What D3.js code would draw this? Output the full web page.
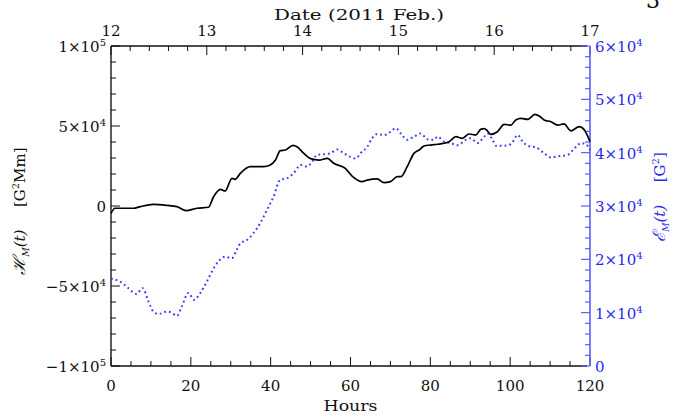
<!DOCTYPE html>
<html>
<head>
<meta charset="utf-8">
<script src="https://cdn.jsdelivr.net/npm/d3@7"></script>
<style>
  html, body { margin: 0; padding: 0; background: #fff; }
  svg { display: block; }
  text { font-family: "DejaVu Serif", "Liberation Serif", serif; }
</style>
</head>
<body>
<svg id="chart" width="684" height="420"></svg>
<script>
// Magnetic helicity H_M(t) [G^2 Mm], left axis (solid black)
const helicityHours = [0, 1, 5.6, 7.3, 10.6, 14, 16.5, 18.8, 21.5, 24.4, 25.7, 27.4, 28.6, 30.3, 31.1, 32.4, 34.9, 38.2, 39.9, 41.2, 42.4, 43.7, 45.6, 46.6, 48.3, 50, 52.1, 54.2, 55.8, 58.7, 60.4, 62.9, 64.2, 66.7, 68.4, 70, 71.7, 72.6, 74.2, 75.9, 77.2, 78.4, 80.1, 81.8, 83.4, 84.7, 86.4, 88, 89.7, 91.4, 92.6, 93.5, 94.3, 95.1, 96.8, 98.5, 100.2, 101.4, 102.7, 104.4, 106.2, 107.3, 108.5, 110.2, 111.9, 113.5, 115.2, 117.3, 118.6, 120];
const helicityValues = [-4600, -1400, -1400, -400, 1000, 400, -400, -2900, -1400, -800, 5800, 10400, 9400, 17300, 16700, 20400, 24600, 24600, 25600, 28700, 34600, 35000, 37900, 37000, 32900, 29600, 28700, 29800, 26700, 23500, 18700, 15200, 16200, 16900, 14600, 15200, 18300, 18300, 24600, 32900, 35000, 37500, 38100, 38600, 39200, 40200, 43300, 42300, 45000, 44400, 47900, 48400, 47000, 44800, 46400, 51000, 50600, 53800, 54800, 54200, 57300, 56200, 53800, 52700, 50600, 51300, 47000, 49600, 47500, 40200];

// Magnetic energy E_M(t) [G^2], right axis (dotted blue)
const energyHours = [0, 2.3, 3.9, 6.4, 7.9, 9.4, 10.6, 11.9, 14, 15.2, 16.5, 17.7, 19.4, 20.8, 22.3, 24, 25.7, 26.9, 28.6, 30.3, 31.5, 32.4, 34, 35.7, 37.4, 39.1, 40.7, 42.4, 44.1, 45.8, 47.5, 49.1, 50.4, 51.6, 53.3, 55, 56.7, 58.3, 60, 61.3, 62.5, 64.2, 65.4, 66.7, 68.4, 70, 71.3, 72.6, 74.2, 75.9, 77.6, 79.3, 80.9, 81.8, 83.4, 85.1, 86.8, 88.9, 90.1, 91.8, 93.5, 94.3, 95.6, 96.4, 98.5, 100.2, 101.9, 103.1, 104.4, 106.5, 108.5, 110.2, 111.9, 114.4, 116.1, 117.8, 119.1, 120];
const energyValues = [16400, 15800, 14900, 13500, 14600, 12100, 10200, 9750, 10200, 10000, 9400, 11100, 13700, 12400, 13600, 15800, 18300, 19600, 20500, 20200, 21800, 23000, 23600, 24900, 26800, 29300, 31700, 34900, 35200, 36200, 37700, 37400, 38300, 39600, 39700, 39900, 40600, 39900, 39200, 38900, 39900, 41100, 42700, 43500, 43300, 43900, 44600, 43600, 42400, 43000, 43600, 42500, 42400, 43000, 42100, 41800, 41400, 42400, 42700, 41800, 43000, 43600, 42400, 41300, 41300, 41600, 43300, 42100, 41300, 41000, 39900, 39100, 39300, 39600, 40800, 41800, 41500, 40500];

// Axis ticks and labels
const hourTicks = [0, 20, 40, 60, 80, 100, 120];
const dayTicks = [0, 24, 48, 72, 96, 120];
const dayLabels = ["12", "13", "14", "15", "16", "17"];
const leftTicks = [-100000, -50000, 0, 50000, 100000];
const leftLabels = [["\u22121\u00d710", "5"], ["\u22125\u00d710", "4"], ["0", ""], ["5\u00d710", "4"], ["1\u00d710", "5"]];
const rightTicks = [0, 10000, 20000, 30000, 40000, 50000, 60000];
const rightLabels = [["0", ""], ["1\u00d710", "4"], ["2\u00d710", "4"], ["3\u00d710", "4"], ["4\u00d710", "4"], ["5\u00d710", "4"], ["6\u00d710", "4"]];

const svg = d3.select("#chart");
const L = 111, R = 590, T = 46, B = 366;
const BLUE_AXIS = "#5c5cff", BLUE_TEXT = "#2a2ae6", BLUE_LINE = "#3a3aff";

const x = d3.scaleLinear().domain([0, 120]).range([L, R]);
const yL = d3.scaleLinear().domain([-100000, 100000]).range([B, T]);
const yR = d3.scaleLinear().domain([0, 60000]).range([B, T]);

const FS = 15;

// Axis frame lines
svg.append("line").attr("x1", L).attr("x2", R - 3).attr("y1", T).attr("y2", T).attr("stroke", "#111").attr("stroke-width", 1.3);
svg.append("line").attr("x1", L).attr("x2", R - 3).attr("y1", B).attr("y2", B).attr("stroke", "#111").attr("stroke-width", 1.3);
svg.append("line").attr("x1", L).attr("x2", L).attr("y1", T).attr("y2", B).attr("stroke", "#333").attr("stroke-width", 1.6);

// Bottom axis: hours, ticks point inward
const botMinor = d3.range(0, 120.01, 5);
svg.append("g").selectAll("line").data(botMinor).join("line")
  .attr("x1", d => x(d)).attr("x2", d => x(d))
  .attr("y1", B).attr("y2", d => B - (d % 20 === 0 ? 9 : 5))
  .attr("stroke", "#111").attr("stroke-width", 1);
svg.append("g").selectAll("text").data(hourTicks).join("text")
  .attr("x", d => x(d)).attr("y", 391)
  .attr("text-anchor", "middle").attr("font-size", FS).attr("fill", "#111")
  .text(d => d);
svg.append("text").attr("x", x(60)).attr("y", 411)
  .attr("text-anchor", "middle").attr("font-size", FS).attr("fill", "#111")
  .attr("textLength", 54).attr("lengthAdjust", "spacingAndGlyphs")
  .text("Hours");

// Top axis: date, ticks point inward
const topMinor = d3.range(0, 120.01, 4.8);
svg.append("g").selectAll("line").data(topMinor).join("line")
  .attr("x1", d => x(d)).attr("x2", d => x(d))
  .attr("y1", T).attr("y2", d => T + (Math.abs(d / 24 - Math.round(d / 24)) < 1e-6 ? 9 : 5))
  .attr("stroke", "#111").attr("stroke-width", 1);
svg.append("g").selectAll("text").data(dayTicks).join("text")
  .attr("x", d => x(d)).attr("y", 36)
  .attr("text-anchor", "middle").attr("font-size", FS).attr("fill", "#111")
  .text((d, i) => dayLabels[i]);
svg.append("text").attr("x", 359).attr("y", 20)
  .attr("text-anchor", "middle").attr("font-size", FS).attr("fill", "#111")
  .attr("textLength", 170).attr("lengthAdjust", "spacingAndGlyphs")
  .text("Date (2011 Feb.)");

// Left axis ticks and labels
const leftMinor = d3.range(-100000, 100001, 10000);
svg.append("g").selectAll("line").data(leftMinor).join("line")
  .attr("x1", L).attr("x2", d => L + (d % 50000 === 0 ? 9 : 5))
  .attr("y1", d => yL(d)).attr("y2", d => yL(d))
  .attr("stroke", "#111").attr("stroke-width", 1);
const lt = svg.append("g").selectAll("text").data(leftTicks).join("text")
  .attr("x", 106).attr("y", d => yL(d) + 6)
  .attr("text-anchor", "end").attr("font-size", FS).attr("fill", "#111");
lt.append("tspan").text((d, i) => leftLabels[i][0]);
lt.append("tspan").attr("dy", -6).attr("font-size", 10).text((d, i) => leftLabels[i][1]);

// Right axis (blue)
const rightMinor = d3.range(0, 60001, 2000);
svg.append("g").selectAll("line").data(rightMinor).join("line")
  .attr("x1", R).attr("x2", d => R - (d % 10000 === 0 ? 9 : 5))
  .attr("y1", d => yR(d)).attr("y2", d => yR(d))
  .attr("stroke", BLUE_AXIS).attr("stroke-width", 1.2);
svg.append("line").attr("x1", R).attr("x2", R).attr("y1", T).attr("y2", B)
  .attr("stroke", BLUE_AXIS).attr("stroke-width", 1.6);
const rt = svg.append("g").selectAll("text").data(rightTicks).join("text")
  .attr("x", 595).attr("y", d => yR(d) + 6)
  .attr("text-anchor", "start").attr("font-size", FS).attr("fill", BLUE_TEXT);
rt.append("tspan").text((d, i) => rightLabels[i][0]);
rt.append("tspan").attr("dy", -6).attr("font-size", 10).text((d, i) => rightLabels[i][1]);

// Left axis title
const lTitle = svg.append("text").attr("transform", "translate(25,211) rotate(-90)")
  .attr("text-anchor", "middle").attr("font-size", FS).attr("fill", "#111");
lTitle.append("tspan").attr("font-style", "italic").attr("font-size", 17).text("\u210b");
lTitle.append("tspan").attr("font-style", "italic").attr("font-size", 9).attr("dy", 4).text("M");
lTitle.append("tspan").attr("font-style", "italic").attr("dy", -4).text("(t)");
lTitle.append("tspan").text("\u2003\u2002[G");
lTitle.append("tspan").attr("font-size", 10).attr("dy", -6).text("2");
lTitle.append("tspan").attr("dy", 6).text("Mm]");

// Right axis title (blue)
const rTitle = svg.append("text").attr("transform", "translate(665,197) rotate(-90)")
  .attr("text-anchor", "middle").attr("font-size", FS).attr("fill", BLUE_TEXT);
rTitle.append("tspan").attr("font-style", "italic").attr("font-size", 17).text("\u2130");
rTitle.append("tspan").attr("font-style", "italic").attr("font-size", 9).attr("dy", 4).text("M");
rTitle.append("tspan").attr("font-style", "italic").attr("dy", -4).text("(t)");
rTitle.append("tspan").text("\u2003\u2002[G");
rTitle.append("tspan").attr("font-size", 10).attr("dy", -6).text("2");
rTitle.append("tspan").attr("dy", 6).text("]");

// Page number fragment at the top edge
svg.append("text").attr("x", 653).attr("y", 8).attr("text-anchor", "middle")
  .attr("font-size", 22).attr("fill", "#111").text("3");

// Data curves
const helicity = helicityHours.map((h, i) => [h, helicityValues[i]]);
const energy = energyHours.map((h, i) => [h, energyValues[i]]);

svg.append("path").datum(energy)
  .attr("fill", "none").attr("stroke", BLUE_LINE).attr("stroke-width", 2)
  .attr("stroke-dasharray", "1.8,3")
  .attr("d", d3.line().x(d => x(d[0])).y(d => yR(d[1])).curve(d3.curveMonotoneX));

svg.append("path").datum(helicity)
  .attr("fill", "none").attr("stroke", "#000").attr("stroke-width", 1.7)
  .attr("stroke-linejoin", "round")
  .attr("d", d3.line().x(d => x(d[0])).y(d => yL(d[1])).curve(d3.curveMonotoneX));
</script>
</body>
</html>
